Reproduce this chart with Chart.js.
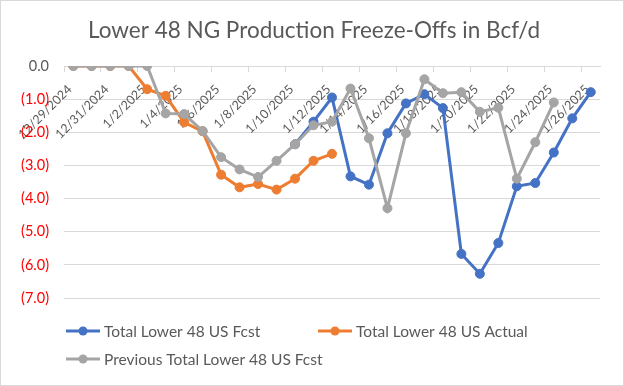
<!DOCTYPE html>
<html><head><meta charset="utf-8">
<script src="https://cdn.jsdelivr.net/npm/chart.js@4/dist/chart.umd.min.js"></script>
<style>html,body{margin:0;padding:0;background:#fff}#wrap{width:624px;height:386px;position:relative}</style>
</head><body><div id="wrap"><canvas id="c" width="624" height="386"></canvas></div>
<script>
const categories = ['12/29/2024','12/30/2024','12/31/2024','1/1/2025','1/2/2025','1/3/2025','1/4/2025','1/5/2025','1/6/2025','1/7/2025','1/8/2025','1/9/2025','1/10/2025','1/11/2025','1/12/2025','1/13/2025','1/14/2025','1/15/2025','1/16/2025','1/17/2025','1/18/2025','1/19/2025','1/20/2025','1/21/2025','1/22/2025','1/23/2025','1/24/2025','1/25/2025','1/26/2025'];
const fcstValues = [null,null,null,null,null,null,null,null,null,null,null,null,-2.36,-1.68,-0.95,-3.33,-3.58,-2.03,-1.13,-0.85,-1.27,-5.67,-6.27,-5.34,-3.63,-3.53,-2.61,-1.58,-0.79];
const actualValues = [0,0,0,0,-0.70,-0.90,-1.70,-1.97,-3.28,-3.66,-3.56,-3.73,-3.40,-2.86,-2.65,null,null,null,null,null,null,null,null,null,null,null,null,null,null];
const previousValues = [0,0,0,0,0,-1.43,-1.45,-1.96,-2.75,-3.12,-3.35,-2.86,-2.36,-1.79,-1.68,-0.68,-2.18,-4.29,-2.03,-0.40,-0.82,-0.79,-1.38,-1.26,-3.40,-2.30,-1.10,null,null];
const seriesNames = ['Total Lower 48 US Fcst','Total Lower 48 US Actual','Previous Total Lower 48 US Fcst'];
const seriesColors = ['#4472C4','#ED7D31','#A5A5A5'];
const yTicks = [0,-1,-2,-3,-4,-5,-6,-7];
const titleText = 'Lower 48 NG Production Freeze-Offs in Bcf/d';

const FONT = 'Lato';
const TEXT = '#595959';

function ds(i, data){
  return {label: seriesNames[i], data, order: 3 - i, borderColor: seriesColors[i], backgroundColor: seriesColors[i],
    borderWidth: 3, pointRadius: 4.5, pointHoverRadius: 4.5, pointBorderWidth: 1,
    pointBackgroundColor: seriesColors[i], pointBorderColor: seriesColors[i], tension: 0, spanGaps: false};
}

const framePlugin = {
  id: 'frame',
  beforeDraw(chart){
    const c = chart.ctx;
    c.save(); c.fillStyle = '#fff'; c.fillRect(0,0,chart.width,chart.height);
    c.strokeStyle = '#D9D9D9'; c.lineWidth = 1; c.strokeRect(0.5,0.5,chart.width-1,chart.height-1);
    c.restore();
  },
  afterDraw(chart){
    const c = chart.ctx;
    c.save();
    c.fillStyle = TEXT; c.textAlign = 'center'; c.textBaseline = 'middle';
    c.font = '22.5px ' + FONT;
    c.fillText(titleText, 314, 31);
    const pos = [[66,331],[318,331],[66,359]];
    c.font = '15.5px ' + FONT; c.textAlign = 'left';
    chart.data.datasets.forEach((d, i) => {
      const [x, y] = pos[i];
      c.strokeStyle = d.borderColor; c.lineWidth = 3;
      c.beginPath(); c.moveTo(x, y); c.lineTo(x+34, y); c.stroke();
      c.fillStyle = d.borderColor; c.beginPath(); c.arc(x+17, y, 4.5, 0, Math.PI*2); c.fill();
      c.fillStyle = TEXT; c.fillText(d.label, x+38, y+1);
    });
    c.restore();
  }
};

new Chart(document.getElementById('c'), {
  type: 'line',
  data: { labels: categories, datasets: [ds(0, fcstValues), ds(1, actualValues), ds(2, previousValues)] },
  options: {
    responsive: false, animation: false, devicePixelRatio: 1,
    layout: { padding: { left: 0, right: 24, top: 66, bottom: 88 } },
    plugins: { legend: { display: false }, title: { display: false }, tooltip: { enabled: false } },
    scales: {
      x: {
        type: 'category', position: { y: 0 }, offset: true,
        grid: { offset: true, drawOnChartArea: false, drawTicks: true, tickLength: 5,
          color: (ctx) => (ctx.index % 2 === 0 ? '#D9D9D9' : 'rgba(0,0,0,0)') },
        border: { display: true, color: '#D9D9D9', width: 1 },
        ticks: { autoSkip: false, minRotation: 45, maxRotation: 45, padding: 11, labelOffset: -3.5, color: TEXT,
          font: { family: FONT, size: 12.5 },
          callback: (v, i) => (i % 2 === 0 ? categories[i] : '') }
      },
      y: {
        min: -7, max: 0,
        afterBuildTicks: (s) => { s.ticks = yTicks.map(v => ({ value: v })); },
        afterFit: (s) => { s.width = 64; },
        grid: { color: '#D9D9D9', drawTicks: false },
        border: { display: false },
        ticks: { padding: 15, font: { family: FONT, size: 14.5 },
          color: (ctx) => (ctx.tick.value < 0 ? '#FF0000' : TEXT),
          callback: (v) => (v === 0 ? '0.0' : (v < 0 ? '(' + Math.abs(v).toFixed(1) + ')' : v.toFixed(1))) }
      }
    }
  },
  plugins: [framePlugin]
});
</script></body></html>
